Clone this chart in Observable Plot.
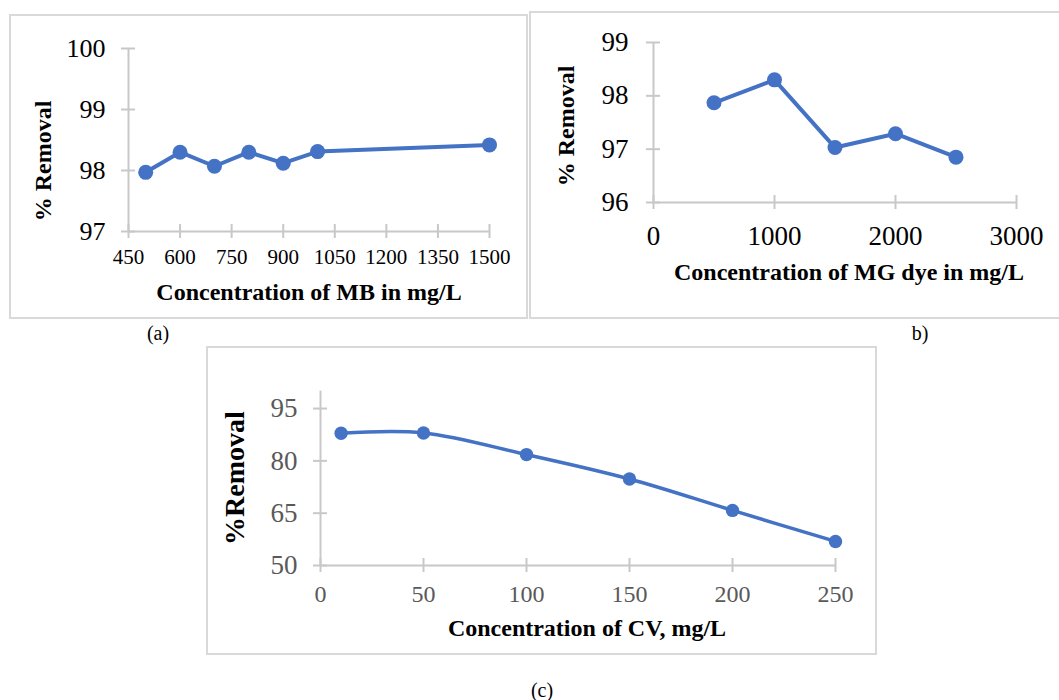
<!DOCTYPE html>
<html><head><meta charset="utf-8">
<script src="https://cdn.jsdelivr.net/npm/d3@7"></script>
<script src="https://cdn.jsdelivr.net/npm/@observablehq/plot@0.6"></script>
<style>
body{margin:0;background:#fff;}
#page{position:relative;width:1059px;height:700px;overflow:hidden;font-family:"Liberation Serif","Times New Roman",serif;color:#000;}
.box{position:absolute;border:2px solid #d9d9d9;box-sizing:border-box;}
.lbl{position:absolute;transform:translate(-50%,-50%);white-space:nowrap;line-height:1;}
.ttl{font-weight:bold;font-size:24px;}
.rot{transform:translate(-50%,-50%) rotate(-90deg);}
.plot{position:absolute;}
.plot svg{overflow:visible;}
</style></head><body><div id="page"></div>
<script>
// (a) Methylene blue
const mbConc = [500, 600, 700, 800, 900, 1000, 1500];
const mbRemoval = [97.97, 98.30, 98.07, 98.30, 98.12, 98.31, 98.42];
const mbXTicks = [450, 600, 750, 900, 1050, 1200, 1350, 1500];
const mbYTicks = [97, 98, 99, 100];
// (b) Malachite green
const mgConc = [500, 1000, 1500, 2000, 2500];
const mgRemoval = [97.87, 98.30, 97.03, 97.29, 96.85];
const mgXTicks = [0, 1000, 2000, 3000];
const mgYTicks = [96, 97, 98, 99];
// (c) Crystal violet
const cvConc = [10, 50, 100, 150, 200, 250];
const cvRemoval = [87.9, 88.0, 81.8, 74.8, 65.8, 56.9];
const cvXTicks = [0, 50, 100, 150, 200, 250];
const cvYTicks = [50, 65, 80, 95];

const titles = {
  a: {x: "Concentration of MB in mg/L", y: "% Removal", tag: "(a)"},
  b: {x: "Concentration of MG dye in mg/L", y: "% Removal", tag: "b)"},
  c: {x: "Concentration of CV, mg/L", y: "%Removal", tag: "(c)"}
};

const page = document.getElementById("page");
const BLUE = "#4472C4", AX = "#c8c8c8";

function addDiv(cls, style, text) {
  const d = document.createElement("div");
  d.className = cls;
  Object.assign(d.style, style);
  if (text != null) d.textContent = text;
  page.appendChild(d);
  return d;
}

function panel(o) {
  const data = o.xs.map((x, i) => ({x, y: o.ys[i]}));
  const [x0, x1] = o.xDomain, [y0, y1] = o.yDomain;
  const chart = Plot.plot({
    width: o.width, height: o.height,
    marginLeft: o.ml, marginRight: o.mr, marginTop: o.mt, marginBottom: o.mb,
    style: {fontFamily: '"Liberation Serif","Times New Roman",serif', background: "transparent", overflow: "visible"},
    x: {domain: o.xDomain},
    y: {domain: o.yDomain},
    marks: [
      Plot.ruleY([y0], {x1: x0, x2: x1, stroke: AX, strokeWidth: 2}),
      Plot.ruleX([x0], {y1: y0, y2: y1, stroke: AX, strokeWidth: 2}),
      Plot.ruleX(o.xTicks, {x: d => d, y1: y0, y2: y0, insetTop: -7, insetBottom: -7, stroke: AX, strokeWidth: 2}),
      Plot.ruleY(o.yTicks, {y: d => d, x1: x0, x2: x0, insetLeft: -7, insetRight: -7, stroke: AX, strokeWidth: 2}),
      Plot.axisX({ticks: o.xTicks, tickSize: 0, tickPadding: o.xPad, fontSize: o.xFont, fill: o.tickColor, tickFormat: d => String(d), label: null}),
      Plot.axisY({ticks: o.yTicks, tickSize: 0, tickPadding: o.yPad, fontSize: o.yFont, fill: o.tickColor, tickFormat: d => String(d), label: null}),
      Plot.line(data, {x: "x", y: "y", stroke: BLUE, strokeWidth: o.lw, curve: o.curve || "linear", strokeLinejoin: "round"}),
      Plot.dot(data, {x: "x", y: "y", r: o.r, fill: BLUE, stroke: "none"})
    ]
  });
  const wrap = addDiv("plot", {left: o.left + "px", top: o.top + "px"});
  wrap.appendChild(chart);
}

// boxes
addDiv("box", {left: "9px", top: "14px", width: "519px", height: "305px"});
addDiv("box", {left: "529px", top: "11px", width: "540px", height: "308px"});
addDiv("box", {left: "206px", top: "346px", width: "671px", height: "309px"});

panel({left: 0, top: 0, width: 530, height: 320, ml: 128, mr: 41, mt: 48, mb: 89,
  xDomain: [450, 1500], yDomain: [97, 100], xTicks: mbXTicks, yTicks: mbYTicks,
  xs: mbConc, ys: mbRemoval, xFont: 21, yFont: 26, xPad: 18, yPad: 23, tickColor: "#000", lw: 4, r: 7.5});

panel({left: 528, top: 0, width: 531, height: 320, ml: 125, mr: 43, mt: 42, mb: 118,
  xDomain: [0, 3000], yDomain: [96, 99], xTicks: mgXTicks, yTicks: mgYTicks,
  xs: mgConc, ys: mgRemoval, xFont: 27, yFont: 27, xPad: 23, yPad: 25, tickColor: "#000", lw: 4, r: 7.5});

panel({left: 200, top: 340, width: 700, height: 320, ml: 120, mr: 65, mt: 50.6, mb: 95,
  xDomain: [0, 250], yDomain: [50, 100], xTicks: cvXTicks, yTicks: cvYTicks,
  xs: cvConc, ys: cvRemoval, xFont: 24, yFont: 27, xPad: 19, yPad: 23, tickColor: "#595959", lw: 3.5, r: 6.7, curve: "catmull-rom"});

// titles
addDiv("lbl ttl", {left: "309px", top: "292px"}, titles.a.x);
addDiv("lbl ttl rot", {left: "43px", top: "161px"}, titles.a.y);
addDiv("lbl", {left: "158px", top: "333px", fontSize: "20px"}, titles.a.tag);

addDiv("lbl ttl", {left: "849px", top: "272px"}, titles.b.x);
addDiv("lbl ttl rot", {left: "566px", top: "126px"}, titles.b.y);
addDiv("lbl", {left: "920px", top: "333px", fontSize: "20px"}, titles.b.tag);

addDiv("lbl ttl", {left: "587px", top: "628px"}, titles.c.x);
addDiv("lbl ttl rot", {left: "235px", top: "478px", fontSize: "28px"}, titles.c.y);
addDiv("lbl", {left: "542px", top: "690px", fontSize: "20px"}, titles.c.tag);
</script>
</body></html>
